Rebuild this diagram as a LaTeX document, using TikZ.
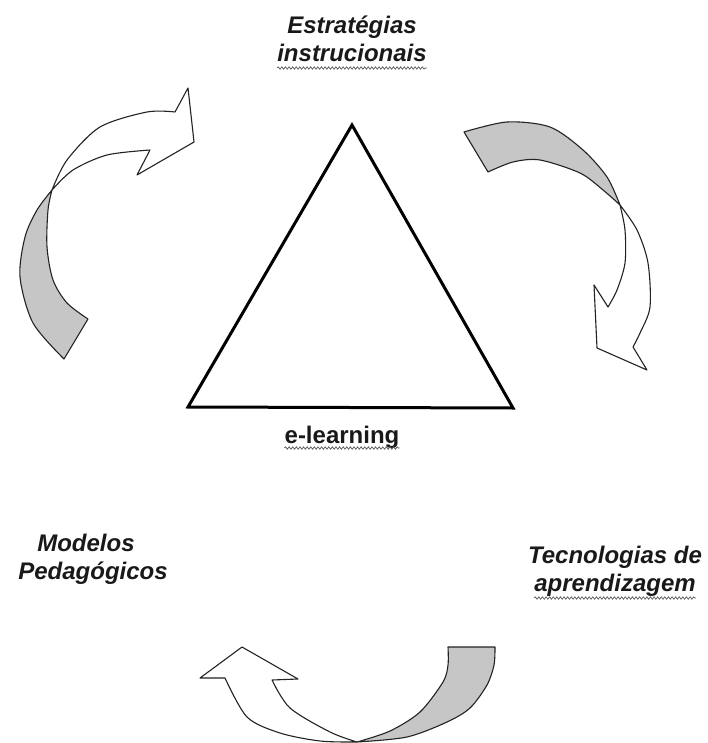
\documentclass[tikz,border=0pt]{standalone}
\usepackage{fontspec}
\setmainfont{Liberation Sans}
\usetikzlibrary{calc,decorations.pathmorphing}
\definecolor{ribbon}{RGB}{198,198,198}
\definecolor{edge}{RGB}{35,35,35}
\definecolor{ink}{RGB}{25,25,25}
\begin{document}
\begin{tikzpicture}[x=1pt,y=-1pt,
  lbl/.style={anchor=base,inner sep=0pt,text=ink,font=\fontsize{24}{28}\selectfont\bfseries\itshape},
  plain/.style={lbl,font=\fontsize{24}{28}\selectfont\bfseries},
  back/.style={fill=ribbon,draw=edge,line width=1.1pt,line join=round},
  front/.style={fill=white,draw=edge,line width=1.1pt,line join=round},
  squiggle/.style={draw=black!65,line width=0.7pt,decorate,
    decoration={snake,amplitude=1.2pt,segment length=3.6pt}},
  tri/.style={draw=black,line width=3pt,line join=miter}]
\useasboundingbox (0,0) rectangle (708,743);

% central triangle
\coordinate (apex) at (352,125);
\coordinate (bl) at (188,407);
\coordinate (br) at (513,408);
\draw[tri] (apex) -- (bl) -- (br) -- cycle;

% labels
\node[lbl] (estr) at (352,34) {Estratégias};
\node[lbl] (instr) at (352,62) {instrucionais};
\node[plain] (elearn) at (342,443) {e-learning};
\node[lbl] (model) at (86,551) {Modelos};
\node[lbl] (pedag) at (93,579) {Pedagógicos};
\node[lbl] (tecno) at (615,563) {Tecnologias de};
\node[lbl] (aprend) at (615,591) {aprendizagem};

% spelling underlines
\draw[squiggle] ($(instr.base west)+(0,6)$) -- ($(instr.base east)+(0,6)$);
\draw[squiggle] ($(elearn.base west)+(0,5)$) -- ($(elearn.base east)+(0,5)$);
\draw[squiggle] ($(aprend.base west)+(0,7)$) -- ($(aprend.base east)+(0,7)$);

% left curved arrow (towards the top label)
\draw[back] (64,359) -- plot[smooth] coordinates {(64,359) (33,323) (20,277) (25,237) (37,210) (52,190)}
  -- plot[smooth] coordinates {(52,190) (48,210) (47,247) (53,280) (67,303) (88,319)} -- cycle;
\draw[front] (52,190) -- plot[smooth] coordinates {(52,190) (67,160) (100,127) (147,112) (175,112)}
  -- (188,88) -- (194,142) -- (137,175) -- (150,150)
  -- plot[smooth] coordinates {(150,150) (107,155) (73,170) (52,190)} -- cycle;

% right curved arrow (towards the right label)
\draw[back] (464,132) -- plot[smooth] coordinates {(464,132) (507,122) (550,127) (583,150) (607,177) (620,205)}
  -- plot[smooth] coordinates {(620,205) (603,190) (580,173) (540,160) (513,162) (488,172)} -- cycle;
\draw[front] (620,205) -- plot[smooth] coordinates {(620,205) (637,230) (648,263) (650,307) (640,333) (633,347)}
  -- (647,370) -- (597,348) -- (594,285) -- (608,307)
  -- plot[smooth] coordinates {(608,307) (617,290) (625,263) (625,230) (620,205)} -- cycle;

% bottom curved arrow (towards the left label)
\draw[back] (448,647) -- (495,647)
  -- plot[smooth] coordinates {(495,647) (494,665) (487,685) (470,708) (447,722) (407,737) (357,742)}
  -- plot[smooth] coordinates {(357,742) (390,731) (420,712) (443,682) (448,665) (448,647)} -- cycle;
\draw[front] (357,742) -- plot[smooth] coordinates {(357,742) (330,732) (290,708) (272,680)}
  -- (298,679) -- (242,647) -- (200,678) -- (225,678)
  -- plot[smooth] coordinates {(225,678) (247,717) (280,733) (320,741) (357,742)} -- cycle;
\end{tikzpicture}
\end{document}
